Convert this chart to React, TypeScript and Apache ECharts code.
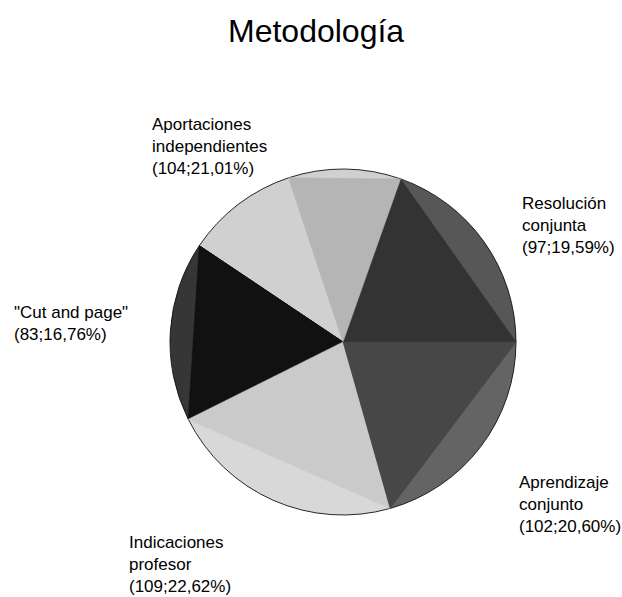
import React, { useEffect, useRef } from "react";
import * as echarts from "echarts";

const title = "Metodología";
const categories = [
  "Resolución\nconjunta",
  "Aportaciones\nindependientes",
  '"Cut and page"',
  "Indicaciones\nprofesor",
  "Aprendizaje\nconjunto",
];
const values = [97, 104, 83, 109, 102];
const percentLabels = ["19,59%", "21,01%", "16,76%", "22,62%", "20,60%"];

const segmentColors = ["#575757", "#d0d0d0", "#363636", "#d8d8d8", "#646464"];
const triangleColors = ["#333333", "#b5b5b5", "#111111", "#cacaca", "#474747"];
const triangleSpan = [1, 0.5, 1, 1, 1];
const labelAnchors = [
  [522, 192],
  [152, 113],
  [14, 301],
  [129, 531],
  [519, 471],
];

const CX = 343;
const CY = 342;
const R = 173;

export default function App() {
  const ref = useRef<HTMLDivElement>(null);
  useEffect(() => {
    if (!ref.current) return;
    const chart = echarts.init(ref.current, null, { renderer: "svg" });
    const total = values.reduce((a, b) => a + b, 0);
    chart.setOption({
      animation: false,
      backgroundColor: "#ffffff",
      title: {
        text: title,
        left: 223,
        top: 10,
        textStyle: {
          fontFamily: "Liberation Sans, Arial, sans-serif",
          fontSize: 32,
          fontWeight: "normal",
          color: "#000",
        },
      },
      series: [
        {
          type: "pie",
          center: [CX, CY],
          radius: R,
          startAngle: 0,
          clockwise: false,
          avoidLabelOverlap: false,
          data: categories.map((c, i) => ({
            name: c,
            value: values[i],
            itemStyle: { color: segmentColors[i] },
          })),
          itemStyle: { borderColor: "#111", borderWidth: 0.9 },
          label: {
            show: true,
            position: "outside",
            fontFamily: "Liberation Sans, Arial, sans-serif",
            fontSize: 17,
            lineHeight: 22,
            color: "#000",
            formatter: (p: any) =>
              `${p.name}\n(${values[p.dataIndex]};${percentLabels[p.dataIndex]})`,
          },
          labelLine: { show: false },
          labelLayout: (p: any) => ({
            x: labelAnchors[p.dataIndex][0],
            y: labelAnchors[p.dataIndex][1],
            align: "left",
            verticalAlign: "top",
          }),
          emphasis: { disabled: true },
          z: 1,
        },
        {
          type: "custom",
          coordinateSystem: "none",
          silent: true,
          z: 2,
          data: values.map((v) => [v]),
          renderItem: (params: any) => {
            const i = params.dataIndex;
            let before = 0;
            for (let j = 0; j < i; j++) before += values[j];
            const a0 = (before / total) * Math.PI * 2;
            const a1 = a0 + (values[i] / total) * Math.PI * 2 * triangleSpan[i];
            const pts = [
              [CX, CY],
              [CX + R * Math.cos(a0), CY - R * Math.sin(a0)],
              [CX + R * Math.cos(a1), CY - R * Math.sin(a1)],
            ];
            return {
              type: "polygon",
              shape: { points: pts },
              style: { fill: triangleColors[i], stroke: triangleColors[i], lineWidth: 0.5 },
            };
          },
        },
      ],
    });
    return () => chart.dispose();
  }, []);
  return (
    <div
      ref={ref}
      style={{ position: "fixed", left: 0, top: 0, width: 622, height: 597 }}
    />
  );
}
